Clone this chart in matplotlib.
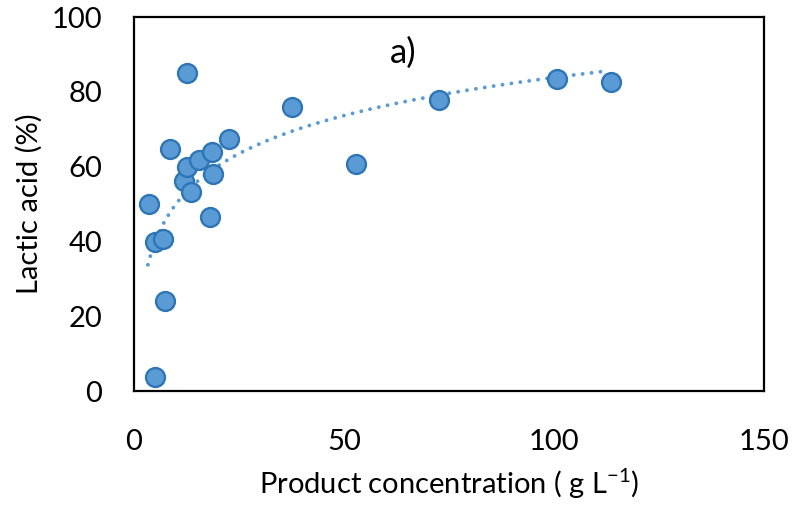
import numpy as np
import matplotlib
matplotlib.use("Agg")
import matplotlib.pyplot as plt

## DATA ##
product_conc = [3.6, 5.0, 7.0, 7.4, 5.0, 8.6, 12.5, 12.0, 12.5, 13.5,
                15.5, 18.6, 18.9, 18.1, 22.7, 37.5, 52.9, 72.6, 100.7, 113.6]
lactic_acid = [49.9, 39.8, 40.6, 24.0, 3.7, 64.8, 85.0, 56.1, 59.9, 53.1,
               61.8, 64.0, 57.9, 46.5, 67.4, 76.0, 60.7, 77.8, 83.4, 82.6]
x_ticks = [0, 50, 100, 150]
y_ticks = [0, 20, 40, 60, 80, 100]

plt.rcParams['font.family'] = ['Lato', 'DejaVu Sans']

fig = plt.figure(figsize=(7.95, 5.08), dpi=100)
ax = fig.add_axes([0.1686, 0.2303, 0.7925, 0.7362])

# logarithmic trendline (fitted like Excel does)
x = np.array(product_conc)
y = np.array(lactic_acid)
a, b = np.polyfit(np.log(x), y, 1)
xs = np.linspace(3.3, 111.7, 300)
ax.plot(xs, a * np.log(xs) + b, color='#5B9BD5', lw=2.8,
        linestyle=(0, (0.01, 2.3)), dash_capstyle='round', zorder=2)

ax.scatter(x, y, s=185, color='#5B9BD5', edgecolors='#2E75B6',
           linewidths=1.7, zorder=3)

ax.text(64, 90.5, 'a)', fontsize=25, ha='center', va='center')

ax.set_xlim(0, 150)
ax.set_ylim(0, 100)
ax.set_xticks(x_ticks)
ax.set_yticks(y_ticks)
ax.tick_params(length=0, labelsize=21)
ax.tick_params(axis='x', pad=27)
ax.tick_params(axis='y', pad=23)
for s in ax.spines.values():
    s.set_linewidth(1.6)
    s.set_color('black')

ax.set_xlabel('Product concentration ( g L$^{\\mathregular{-1}}$)', fontsize=21, labelpad=8)
ax.set_ylabel('Lactic acid (%)', fontsize=21, labelpad=6)

fig.savefig('out.png', dpi=100)
